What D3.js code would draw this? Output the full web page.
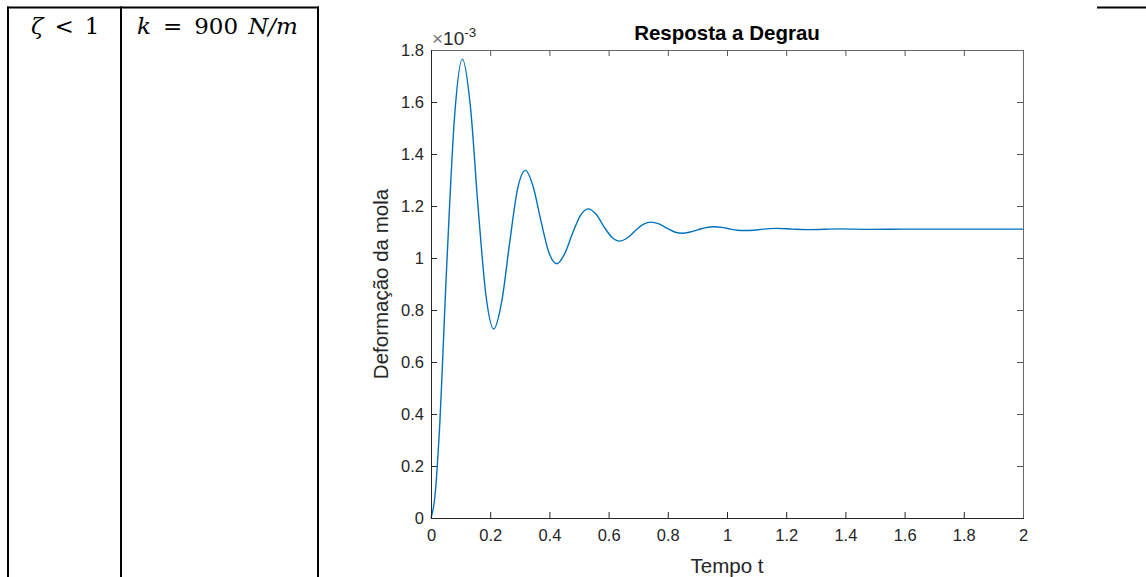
<!DOCTYPE html>
<html>
<head>
<meta charset="utf-8">
<script src="https://cdn.jsdelivr.net/npm/d3@7"></script>
<style>
  body { margin: 0; background: white; }
  svg { display: block; }
</style>
</head>
<body>
<div id="chart"></div>
<script>
// tempo (s) e deformação (x 10^-3 m)
var tempo = [0, 0.013, 0.027, 0.053, 0.080, 0.106, 0.133, 0.159, 0.186, 0.212,
  0.239, 0.266, 0.292, 0.319, 0.345, 0.372, 0.398, 0.425, 0.451, 0.478,
  0.505, 0.531, 0.558, 0.584, 0.611, 0.637, 0.664, 0.690, 0.717, 0.744,
  0.770, 0.797, 0.823, 0.850, 0.876, 0.903, 0.929, 0.956, 0.982, 1.009,
  1.035, 1.062, 1.089, 1.115, 1.142, 1.168, 1.222, 1.275, 1.381, 1.487,
  1.6, 1.8, 2.0];
var deformacao = [0, 0.080, 0.307, 0.967, 1.550, 1.765, 1.584, 1.196, 0.853, 0.727,
  0.833, 1.061, 1.263, 1.337, 1.275, 1.140, 1.022, 0.978, 1.015, 1.094,
  1.164, 1.189, 1.168, 1.121, 1.080, 1.065, 1.078, 1.105, 1.129, 1.138,
  1.131, 1.115, 1.100, 1.095, 1.100, 1.109, 1.117, 1.120, 1.118, 1.112,
  1.107, 1.106, 1.107, 1.110, 1.113, 1.114, 1.111, 1.109, 1.112, 1.110,
  1.111, 1.111, 1.111];
var xTicks = [0, 0.2, 0.4, 0.6, 0.8, 1, 1.2, 1.4, 1.6, 1.8, 2];
var yTicks = [0, 0.2, 0.4, 0.6, 0.8, 1, 1.2, 1.4, 1.6, 1.8];
var titulo = "Resposta a Degrau";
var xLabel = "Tempo t";
var yLabel = "Deformação da mola";

var W = 1146, H = 577;
var svg = d3.select("#chart").append("svg")
    .attr("width", W)
    .attr("height", H);

// --- tabela (fundo) ---
var tabela = svg.append("g").attr("id", "tabela");
tabela.append("line").attr("x1", 7).attr("x2", 319).attr("y1", 7.5).attr("y2", 7.5)
    .style("stroke", "black").style("stroke-width", 2);
tabela.append("line").attr("x1", 1097).attr("x2", 1146).attr("y1", 7.5).attr("y2", 7.5)
    .style("stroke", "black").style("stroke-width", 2);
[8, 121, 318].forEach(function(x) {
    tabela.append("line").attr("x1", x).attr("x2", x).attr("y1", 6.5).attr("y2", H)
        .style("stroke", "black").style("stroke-width", 2);
});

var serif = "'DejaVu Serif', 'Liberation Serif', serif";
var zeta = tabela.append("text")
    .attr("x", 31).attr("y", 34)
    .style("font-family", serif)
    .style("font-size", "23px");
zeta.append("tspan").style("font-style", "italic").text("ζ");
zeta.append("tspan").attr("dx", 11).text("<");
zeta.append("tspan").attr("dx", 11).text("1");

var kText = tabela.append("text")
    .attr("x", 137).attr("y", 34)
    .style("font-family", serif)
    .style("font-size", "23px");
kText.append("tspan").style("font-style", "italic").text("k");
kText.append("tspan").attr("dx", 12).text("=");
kText.append("tspan").attr("dx", 12).text("900");
kText.append("tspan").attr("dx", 10).style("font-style", "italic").text("N/m");

// --- gráfico ---
var mLeft = 431, mRight = 1023, mTop = 50, mBottom = 518;
var x = d3.scaleLinear().domain([0, 2]).range([mLeft, mRight]);
var y = d3.scaleLinear().domain([0, 1.8]).range([mBottom, mTop]);

var axisColor = "#262626";
var font = "'Liberation Sans', Arial, sans-serif";
var tick = 6;

var g = svg.append("g").attr("id", "grafico");

// linha da resposta
var line = d3.line()
    .x(function(d, i) { return x(tempo[i]); })
    .y(function(d, i) { return y(deformacao[i]); })
    .curve(d3.curveMonotoneX);

g.append("path")
    .datum(tempo)
    .attr("d", line)
    .style("fill", "none")
    .style("stroke", "#0072BD")
    .style("stroke-width", 1.4);

// eixos
var xAxisB = d3.axisBottom(x).tickValues(xTicks).tickSize(-tick).tickPadding(11)
    .tickFormat(d3.format("~g"));
var xAxisT = d3.axisTop(x).tickValues(xTicks).tickSize(-tick).tickFormat("");
var yAxisL = d3.axisLeft(y).tickValues(yTicks).tickSize(-tick).tickPadding(7)
    .tickFormat(d3.format("~g"));
var yAxisR = d3.axisRight(y).tickValues(yTicks).tickSize(-tick).tickFormat("");

function estilo(sel, cor) {
    sel.select(".domain").remove();
    sel.selectAll(".tick line").style("stroke", cor);
    sel.selectAll("text")
        .style("font-family", font)
        .style("font-size", "16.5px")
        .style("fill", axisColor);
}

g.append("g").attr("transform", "translate(0," + mBottom + ")").call(xAxisB).call(estilo, axisColor);
g.append("g").attr("transform", "translate(0," + mTop + ")").call(xAxisT).call(estilo, "#555");
g.append("g").attr("transform", "translate(" + mLeft + ",0)").call(yAxisL).call(estilo, axisColor);
g.append("g").attr("transform", "translate(" + mRight + ",0)").call(yAxisR).call(estilo, "#555");

// moldura
g.append("path")
    .attr("d", "M" + mLeft + "," + (mTop + 0.5) + "H" + (mRight + 0.5) + "V" + mBottom)
    .style("fill", "none").style("stroke", "#6a6a6a").style("stroke-width", 1);
g.append("path")
    .attr("d", "M" + (mLeft + 0.5) + "," + mTop + "V" + (mBottom + 0.5) + "H" + (mRight + 1))
    .style("fill", "none").style("stroke", axisColor).style("stroke-width", 1);

// expoente
var expo = g.append("text")
    .attr("x", mLeft + 1).attr("y", 45)
    .style("font-family", font)
    .style("font-size", "19px")
    .style("fill", axisColor);
expo.append("tspan").style("fill", "#777").text("×");
expo.append("tspan").text("10");
expo.append("tspan").attr("dy", -8).style("font-size", "13.5px").text("-3");

// título e rótulos
g.append("text")
    .attr("x", (mLeft + mRight) / 2).attr("y", 40)
    .attr("text-anchor", "middle")
    .style("font-family", font)
    .style("font-weight", "bold")
    .style("font-size", "20.5px")
    .style("fill", "black")
    .text(titulo);

g.append("text")
    .attr("x", (mLeft + mRight) / 2).attr("y", 573)
    .attr("text-anchor", "middle")
    .style("font-family", font)
    .style("font-size", "20.5px")
    .style("fill", axisColor)
    .text(xLabel);

g.append("text")
    .attr("transform", "translate(388," + ((mTop + mBottom) / 2) + ") rotate(-90)")
    .attr("text-anchor", "middle")
    .style("font-family", font)
    .style("font-size", "20.5px")
    .style("fill", axisColor)
    .text(yLabel);
</script>
</body>
</html>
